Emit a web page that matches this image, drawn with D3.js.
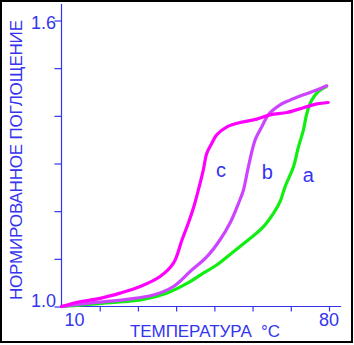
<!DOCTYPE html>
<html><head><meta charset="utf-8">
<script src="https://cdn.jsdelivr.net/npm/d3@7"></script>
<style>html,body{margin:0;padding:0;background:#fff}</style>
</head><body>
<script>
// Data (temperature °C, normalized absorbance)
const curveA = [[10,1.000],[22.7,1.008],[31.4,1.015],[37.5,1.028],[43.2,1.050],[46.3,1.066],[50.6,1.087],[55.0,1.115],[59.4,1.143],[62.8,1.167],[65.5,1.196],[67.2,1.220],[68.5,1.251],[70.7,1.293],[72.0,1.335],[73.3,1.370],[74.2,1.405],[75.5,1.433],[77.2,1.451],[79.4,1.462]];
const curveB = [[10,1.000],[18.3,1.008],[27.1,1.015],[34.0,1.024],[39.3,1.042],[43.6,1.073],[48.0,1.104],[51.5,1.140],[54.1,1.175],[56.3,1.216],[57.6,1.244],[58.9,1.293],[60.7,1.350],[62.4,1.377],[64.1,1.402],[67.2,1.423],[69.8,1.433],[73.3,1.444],[76.8,1.454],[79.4,1.463]];
const curveC = [[10,1.000],[14.8,1.010],[20.1,1.017],[25.3,1.028],[30.6,1.042],[35.8,1.063],[39.3,1.091],[41.5,1.139],[43.2,1.175],[44.5,1.206],[45.8,1.244],[47.1,1.286],[48.0,1.321],[49.3,1.342],[50.6,1.360],[53.3,1.377],[56.7,1.386],[61.1,1.393],[64.6,1.402],[69.0,1.407],[73.3,1.417],[76.8,1.425],[79.8,1.428]];
const seriesNames = ["a","b","c"];
const seriesColors = ["#11ee11","#cc44ff","#ff00ff"];
const xTicks = [10,20,30,40,50,60,70,80];
const xTickLabels = [[10,"10"],[80,"80"]];
const yTicks = [1.0,1.1,1.2,1.3,1.4,1.5,1.6];
const yTickLabels = [[1.0,"1.0"],[1.6,"1.6"]];
const curveLabels = [["a",73.1,1.261],["b",62.4,1.267],["c",50.45,1.271]];
const xTitle = "ТЕМПЕРАТУРА  °C";
const yTitle = "НОРМИРОВАННОЕ ПОГЛОЩЕНИЕ";

const W = 354, H = 345;
const blue = "#3434f0";
const svg = d3.select("body").append("svg").attr("width", W).attr("height", H)
  .style("font-family", "Arial, 'Liberation Sans', sans-serif");

svg.append("rect").attr("x",1).attr("y",1).attr("width",351).attr("height",341)
  .attr("fill","#fff").attr("stroke","#000").attr("stroke-width",2);

const x = d3.scaleLinear().domain([10,80]).range([61.5,329]);
const y = d3.scaleLinear().domain([1.0,1.6]).range([306.5,20.5]);

// x axis
const xAxis = svg.append("g").attr("transform","translate(0,"+y(1.0)+")")
  .call(d3.axisBottom(x).tickValues(xTicks.slice(1)).tickSize(5).tickFormat("").tickSizeOuter(0));
xAxis.select(".domain").attr("d","M"+x(10)+",0H341");
xAxis.selectAll("path,line").attr("stroke",blue).attr("stroke-width",1.2);

// y axis
const yAxis = svg.append("g").attr("transform","translate("+x(10)+",0)")
  .call(d3.axisLeft(y).tickValues(yTicks).tickSize(7).tickFormat("").tickSizeOuter(0));
yAxis.select(".domain").attr("d","M0,"+y(1.0)+"V4");
yAxis.selectAll("path,line").attr("stroke",blue).attr("stroke-width",1.2);

// tick labels
svg.selectAll(".xl").data(xTickLabels).enter().append("text")
  .attr("x", d => x(d[0]) + (d[0]===10 ? 13 : 0)).attr("y", 326)
  .attr("text-anchor","middle").attr("font-size",18).attr("fill",blue).text(d => d[1]);
svg.selectAll(".yl").data(yTickLabels).enter().append("text")
  .attr("x", 56).attr("y", d => y(d[0]) + (d[0]===1.0 ? 0.5 : 8.5))
  .attr("text-anchor","end").attr("font-size",18).attr("fill",blue).text(d => d[1]);

// titles
svg.append("text").attr("x",130).attr("y",337).attr("font-size",17).attr("fill",blue)
  .style("white-space","pre")
  .attr("textLength",150).attr("lengthAdjust","spacing").text(xTitle);
svg.append("text").attr("transform","translate(22,300) rotate(-90)").attr("font-size",17).attr("fill",blue)
  .attr("textLength",280).attr("lengthAdjust","spacing").text(yTitle);

// curves
const line = d3.line().x(d => x(d[0])).y(d => y(d[1])).curve(d3.curveCatmullRom.alpha(0.5));
[curveA, curveB, curveC].forEach((c,i) => {
  svg.append("path").datum(c).attr("d", line).attr("fill","none")
    .attr("stroke", seriesColors[i]).attr("stroke-width",3.2)
    .attr("stroke-linejoin","round").attr("stroke-linecap","round");
});

// curve labels
svg.selectAll(".cl").data(curveLabels).enter().append("text")
  .attr("x", d => x(d[1])).attr("y", d => y(d[2]))
  .attr("font-size",20).attr("fill",blue).text(d => d[0]);
</script>
</body></html>
